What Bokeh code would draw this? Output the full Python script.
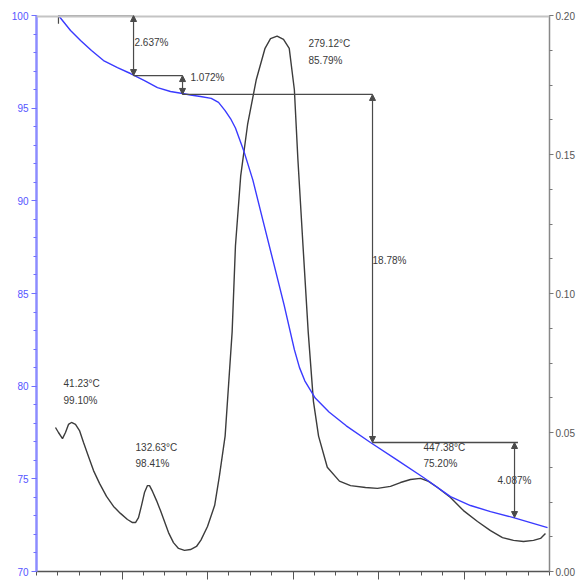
import numpy as np
from bokeh.plotting import figure
from bokeh.models import (Range1d, LinearAxis, Span, Arrow, NormalHead, FixedTicker,
                          CustomJSTickFormatter, NumeralTickFormatter, ColumnDataSource)
from bokeh.core.properties import value
from bokeh.embed import file_html
from bokeh.resources import INLINE

# ---- data (x = unlabeled run axis) ----
tg_x = [2.57, 3.98, 5.15, 6.43, 7.84, 9.47, 10.99, 12.63, 14.15, 15.67, 17.08, 18.01, 19.18,
        20.44, 21.29, 22.06, 22.69, 23.27, 24.29, 25.30, 26.51, 27.73, 28.95, 30.16, 30.76,
        31.38, 32.60, 34.21, 36.23, 39.06, 42.11, 45.26, 48.42, 50.76, 53.10, 55.79, 57.78, 59.77]
tg_y = [100.00, 99.19, 98.65, 98.11, 97.57, 97.19, 96.87, 96.49, 96.11, 95.90, 95.79, 95.71,
        95.63, 95.53, 95.31, 94.87, 94.44, 93.93, 92.63, 91.13, 88.89, 86.65, 84.40, 81.97,
        81.00, 80.29, 79.36, 78.61, 77.86, 76.96, 76.04, 75.07, 74.04, 73.56, 73.23, 72.91,
        72.64, 72.37]

dtg_x = [2.22, 2.57, 3.04, 3.39, 3.74, 4.09, 4.56, 5.03, 5.50, 6.08, 6.67, 7.37, 8.19, 9.01,
         9.82, 10.64, 11.23, 11.58, 11.93, 12.28, 12.63, 12.98, 13.22, 13.57, 14.04, 14.50,
         14.97, 15.44, 16.02, 16.61, 17.31, 18.01, 18.71, 19.23, 20.00, 20.84, 21.40, 22.06,
         22.46, 22.88, 23.27, 23.88, 24.69, 25.71, 26.73, 27.37, 28.14, 28.89, 29.56, 30.16,
         30.57, 31.17, 31.78, 32.39, 32.99, 34.01, 35.43, 36.73, 38.48, 39.88, 41.40, 42.57,
         43.74, 44.91, 45.85, 46.90, 48.42, 49.94, 51.58, 53.10, 54.50, 55.79, 56.96, 58.13,
         58.95, 59.53]
dtg_y = [0.0518, 0.0500, 0.0478, 0.0500, 0.0529, 0.0536, 0.0529, 0.0507, 0.0464, 0.0414,
         0.0363, 0.0317, 0.0270, 0.0234, 0.0209, 0.0187, 0.0176, 0.0176, 0.0194, 0.0237,
         0.0284, 0.0309, 0.0309, 0.0288, 0.0255, 0.0219, 0.0180, 0.0140, 0.0104, 0.0083,
         0.0076, 0.0079, 0.0090, 0.0113, 0.0162, 0.0238, 0.0345, 0.0487, 0.0669, 0.0861,
         0.1172, 0.1422, 0.1608, 0.1770, 0.1882, 0.1917, 0.1926, 0.1914, 0.1882, 0.1733,
         0.1484, 0.1172, 0.0861, 0.0612, 0.0487, 0.0375, 0.0325, 0.0309, 0.0302, 0.0299,
         0.0306, 0.0320, 0.0331, 0.0335, 0.0324, 0.0302, 0.0266, 0.0219, 0.0180, 0.0147,
         0.0122, 0.0112, 0.0108, 0.0112, 0.0119, 0.0137]

# step markers: x positions and TG levels
step_x = [2.57, 11.35, 17.08, 39.30, 55.91]
step_level = [100.0, 96.76, 95.74, 76.96, 72.91]
step_labels = ["2.637%", "1.072%", "18.78%", "4.087%"]
step_label_x = [11.46, 18.01, 39.30, 53.92]
step_label_y = [98.54, 96.65, 86.78, 74.91]

left_ticks = [70, 75, 80, 85, 90, 95, 100]
right_ticks = [0.00, 0.05, 0.10, 0.15, 0.20]
bottom_ticks = [10, 20, 30, 40, 50]

# peak / point annotations
note_text = ["41.23°C", "99.10%", "132.63°C", "98.41%", "279.12°C", "85.79%", "447.38°C", "75.20%"]
note_x = [3.16, 3.16, 11.58, 11.58, 31.81, 31.81, 45.26, 45.26]
note_y = [80.14, 79.22, 76.69, 75.82, 98.49, 97.57, 76.69, 75.82]

FONT = "Liberation Sans"
TXT = "#3a3a3a"

p = figure(width=577, height=581, output_backend="svg", toolbar_location=None,
           x_range=Range1d(0, 60), y_range=Range1d(70, 100),
           min_border_left=36, min_border_right=28, min_border_top=15, min_border_bottom=10)
p.grid.visible = False
p.outline_line_color = None
p.background_fill_color = "white"

# bottom axis: ticks only
xa = p.xaxis[0]
xa.ticker = FixedTicker(ticks=bottom_ticks, minor_ticks=list(np.arange(0, 60.01, 2.5)))
xa.formatter = CustomJSTickFormatter(code="return ''")
xa.major_label_standoff = 0
xa.major_label_text_font_size = "1px"
xa.axis_line_color = "#555555"
xa.axis_line_width = 1.5
xa.major_tick_line_color = "#555555"
xa.minor_tick_line_color = "#555555"
xa.major_tick_out = 8
xa.major_tick_in = 0
xa.minor_tick_out = 4
xa.minor_tick_in = 0

# left axis (TG %), blue
ya = p.yaxis[0]
ya.ticker = FixedTicker(ticks=left_ticks, minor_ticks=list(range(70, 101)))
ya.axis_line_color = "#8c8cff"
ya.axis_line_width = 2.5
ya.major_tick_line_color = "#7070ff"
ya.minor_tick_line_color = "#7070ff"
ya.major_tick_out = 5
ya.major_tick_in = 0
ya.minor_tick_out = 3
ya.minor_tick_in = 0
ya.major_label_text_color = "#5555ff"
ya.major_label_text_font = FONT
ya.major_label_text_font_size = "10px"
ya.major_label_standoff = 3

# right axis (DTG)
p.extra_y_ranges = {"dtg": Range1d(0, 0.20)}
ra = LinearAxis(y_range_name="dtg",
                ticker=FixedTicker(ticks=right_ticks, minor_ticks=list(np.arange(0, 0.2001, 0.0125))),
                formatter=NumeralTickFormatter(format="0.00"))
ra.axis_line_color = "#888888"
ra.axis_line_width = 1.5
ra.major_tick_line_color = "#777777"
ra.minor_tick_line_color = "#777777"
ra.major_tick_out = 4
ra.major_tick_in = 0
ra.minor_tick_out = 3
ra.minor_tick_in = 0
ra.major_label_text_color = "#555555"
ra.major_label_text_font = FONT
ra.major_label_text_font_size = "10px"
ra.major_label_standoff = 2
p.add_layout(ra, "right")

# top frame line
p.add_layout(Span(location=100, dimension="width", line_color="#c4c4c4", line_width=4))

# curves
p.line(dtg_x, dtg_y, y_range_name="dtg", line_color="#3c3c3c", line_width=1.4)
p.line(tg_x, tg_y, line_color="#3a3aff", line_width=1.4)

# step annotation lines
LC = "#4a4a4a"
hx0, hx1, hy = [], [], []
for i in range(len(step_x) - 1):
    hx0.append(step_x[i])
    hx1.append(step_x[i + 1] + (0.4 if i == len(step_x) - 2 else 0.0))
    hy.append(step_level[i])
seg_src = ColumnDataSource(dict(x0=hx0, x1=hx1, y=hy))
p.segment(x0="x0", y0="y", x1="x1", y1="y", source=seg_src, line_color=LC, line_width=1.3)

for i in range(len(step_x) - 1):
    xs = step_x[i + 1]
    p.add_layout(Arrow(x_start=xs, y_start=step_level[i], x_end=xs, y_end=step_level[i + 1],
                       line_color=LC, line_width=1.2,
                       start=NormalHead(size=6, line_color=LC, fill_color=LC),
                       end=NormalHead(size=6, line_color=LC, fill_color=LC)))

# small tick at the starting point
p.segment(x0=[step_x[0]], y0=[step_level[0]], x1=[step_x[0]], y1=[step_level[0] - 0.45],
          line_color=LC, line_width=1.2)

# texts
p.text(x=note_x, y=note_y, text=note_text, text_font=value(FONT), text_font_size="10px",
       text_color=TXT, text_baseline="middle", text_align="left")
p.text(x=step_label_x, y=step_label_y, text=step_labels, text_font=value(FONT),
       text_font_size="10px", text_color=TXT, text_baseline="middle", text_align="left")

open("out.html", "w").write(file_html(p, INLINE))
